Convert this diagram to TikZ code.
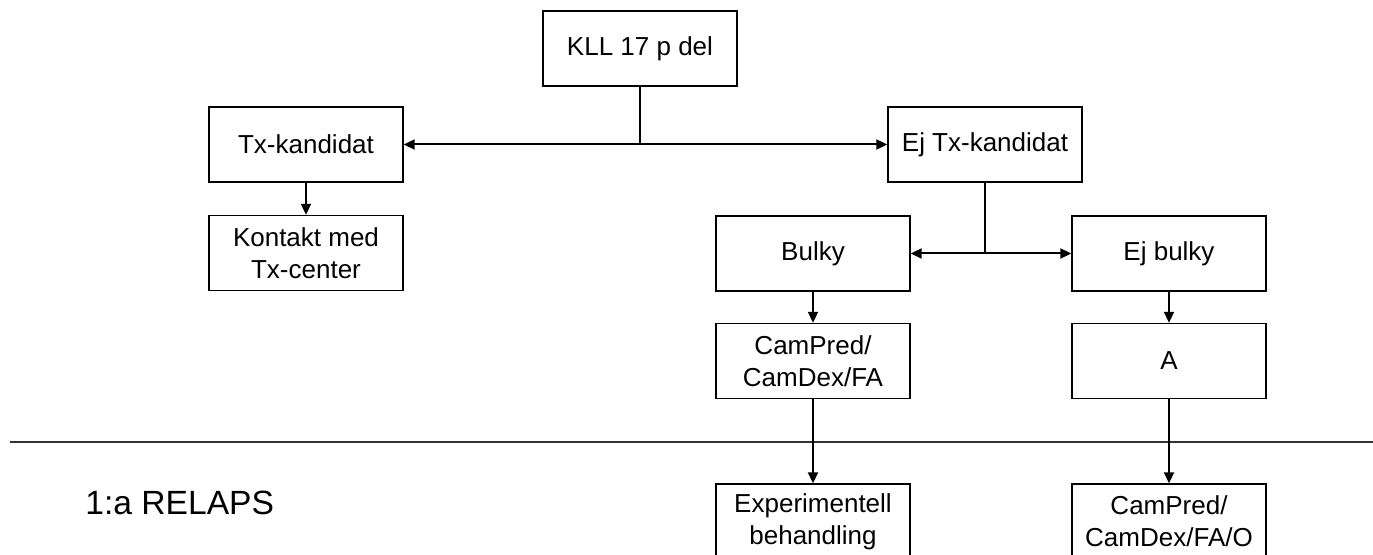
\documentclass[tikz,border=0pt]{standalone}
\usepackage{fontspec}
\setmainfont{Liberation Sans}
\usetikzlibrary{arrows.meta}
\tikzset{>={Triangle[length=5.5pt,width=5pt]}}
\tikzset{
  box/.style={draw,line width=0.7pt,minimum width=97pt,minimum height=37.5pt,
    align=center,inner sep=2pt,font=\fontsize{13}{16}\selectfont},
  link/.style={line width=1pt}
}

\begin{document}
\begin{tikzpicture}[x=0.5pt,y=-0.5pt]
\useasboundingbox (0,0) rectangle (1373,555);
\node[box] (kll) at (640,48.5) {KLL 17 p del};
\node[box] (tx) at (306,144.5) {Tx-kandidat};
\node[box] (ejtx) at (985,144.5) {Ej Tx-kandidat};
\node[box] (kontakt) at (306,253) {Kontakt med\\Tx-center};
\node[box] (bulky) at (813,253.5) {Bulky};
\node[box] (ejbulky) at (1169,253.5) {Ej bulky};
\node[box] (cam) at (813,361) {CamPred/\\CamDex/FA};
\node[box] (a) at (1169,361) {A};
\node[box] (exp) at (813,521.5) {Experimentell\\behandling};
\node[box] (camo) at (1169,521.5) {CamPred/\\CamDex/FA/O};

\draw[line width=0.8pt,black!80] (10,442) coordinate (sepl) -- (1373,442) coordinate (sepr);
\node[anchor=base west,inner sep=0pt,font=\fontsize{16.8}{20}\selectfont] (relaps) at (85,515) {1:a RELAPS};

\coordinate (split1) at (kll.south |- tx.east);
\coordinate (split2) at (ejtx.south |- bulky.east);
\draw[link] (kll) -- (split1);
\draw[link,->] (split1) -- (tx);
\draw[link,->] (split1) -- (ejtx);
\draw[link,->] (tx) -- (kontakt);
\draw[link] (ejtx) -- (split2);
\draw[link,->] (split2) -- (bulky);
\draw[link,->] (split2) -- (ejbulky);
\draw[link,->] (bulky) -- (cam);
\draw[link,->] (ejbulky) -- (a);
\draw[link,->] (cam) -- (exp);
\draw[link,->] (a) -- (camo);
\end{tikzpicture}
\end{document}
